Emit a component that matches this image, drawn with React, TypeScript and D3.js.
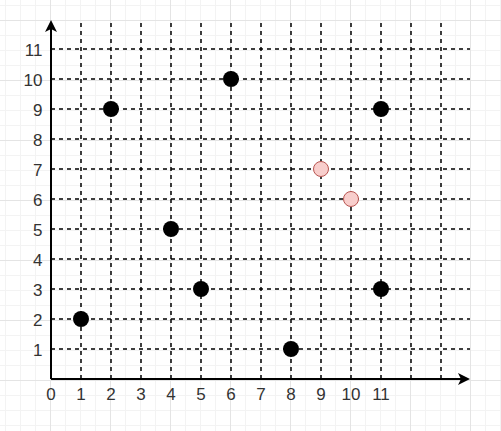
import React from 'react';
import * as d3 from 'd3';

const W = 501;
const H = 431;

// data
const blackPoints: [number, number][] = [
  [1, 2], [2, 9], [4, 5], [5, 3], [6, 10], [8, 1], [11, 9], [11, 3],
];
const pinkPoints: [number, number][] = [
  [9, 7], [10, 6],
];
const xTickLabels = [0, 1, 2, 3, 4, 5, 6, 7, 8, 9, 10, 11];
const yTickLabels = [1, 2, 3, 4, 5, 6, 7, 8, 9, 10, 11];
const xGridValues = [1, 2, 3, 4, 5, 6, 7, 8, 9, 10, 11, 12, 13];

export default function App() {
  const x = d3.scaleLinear().domain([0, 1]).range([51, 81]);
  const y = d3.scaleLinear().domain([0, 1]).range([379, 349]);

  const axisTop = 20;
  const axisRight = 470;

  // background paper grid
  const minorV = d3.range(5, W, 15);
  const minorH = d3.range(5, H, 15);
  const majorV = d3.range(50, W, 60);
  const majorH = d3.range(20, H, 60);

  const font = 'Liberation Sans, Arial, sans-serif';

  return (
    <svg
      width={W}
      height={H}
      style={{ position: 'fixed', left: 0, top: 0, background: '#fff' }}
    >
      <g>
        {minorV.map((v) => (
          <line key={'mv' + v} x1={v + 0.5} x2={v + 0.5} y1={0} y2={H} stroke="#f3f3f3" strokeWidth={1} />
        ))}
        {minorH.map((v) => (
          <line key={'mh' + v} x1={0} x2={W} y1={v + 0.5} y2={v + 0.5} stroke="#f3f3f3" strokeWidth={1} />
        ))}
        {majorV.map((v) => (
          <line key={'Mv' + v} x1={v + 0.5} x2={v + 0.5} y1={0} y2={H} stroke="#e4e4e4" strokeWidth={1} />
        ))}
        {majorH.map((v) => (
          <line key={'Mh' + v} x1={0} x2={W} y1={v + 0.5} y2={v + 0.5} stroke="#e4e4e4" strokeWidth={1} />
        ))}
      </g>

      {/* dashed grid */}
      <g stroke="#000" strokeWidth={1.5} strokeDasharray="4,4">
        {xGridValues.map((v) => (
          <line key={'gx' + v} x1={x(v)} x2={x(v)} y1={y(0)} y2={axisTop + 3} />
        ))}
        {yTickLabels.map((v) => (
          <line key={'gy' + v} x1={x(0)} x2={axisRight} y1={y(v)} y2={y(v)} />
        ))}
      </g>

      {/* axes */}
      <line x1={x(0)} x2={x(0)} y1={y(0)} y2={axisTop + 8} stroke="#000" strokeWidth={2} />
      <line x1={x(0)} x2={axisRight - 8} y1={y(0)} y2={y(0)} stroke="#000" strokeWidth={2} />
      <path
        d={`M${x(0)},${axisTop} L${x(0) + 6},${axisTop + 12} L${x(0)},${axisTop + 9} L${x(0) - 6},${axisTop + 12} Z`}
        fill="#000"
      />
      <path
        d={`M${axisRight},${y(0)} L${axisRight - 12},${y(0) - 6} L${axisRight - 9},${y(0)} L${axisRight - 12},${y(0) + 6} Z`}
        fill="#000"
      />

      {/* tick labels */}
      <g fontFamily={font} fontSize={17} fill="#333">
        {xTickLabels.map((v) => (
          <text key={'tx' + v} x={x(v)} y={y(0) + 21} textAnchor="middle">
            {v}
          </text>
        ))}
        {yTickLabels.map((v) => (
          <text key={'ty' + v} x={42.5} y={y(v) + 6.5} textAnchor="end">
            {v}
          </text>
        ))}
      </g>

      {/* points */}
      {blackPoints.map(([px, py], i) => (
        <circle key={'b' + i} cx={x(px)} cy={y(py)} r={8} fill="#000" />
      ))}
      {pinkPoints.map(([px, py], i) => (
        <circle key={'p' + i} cx={x(px)} cy={y(py)} r={7.5} fill="#f8cecc" stroke="#b85450" strokeWidth={1} />
      ))}
    </svg>
  );
}
